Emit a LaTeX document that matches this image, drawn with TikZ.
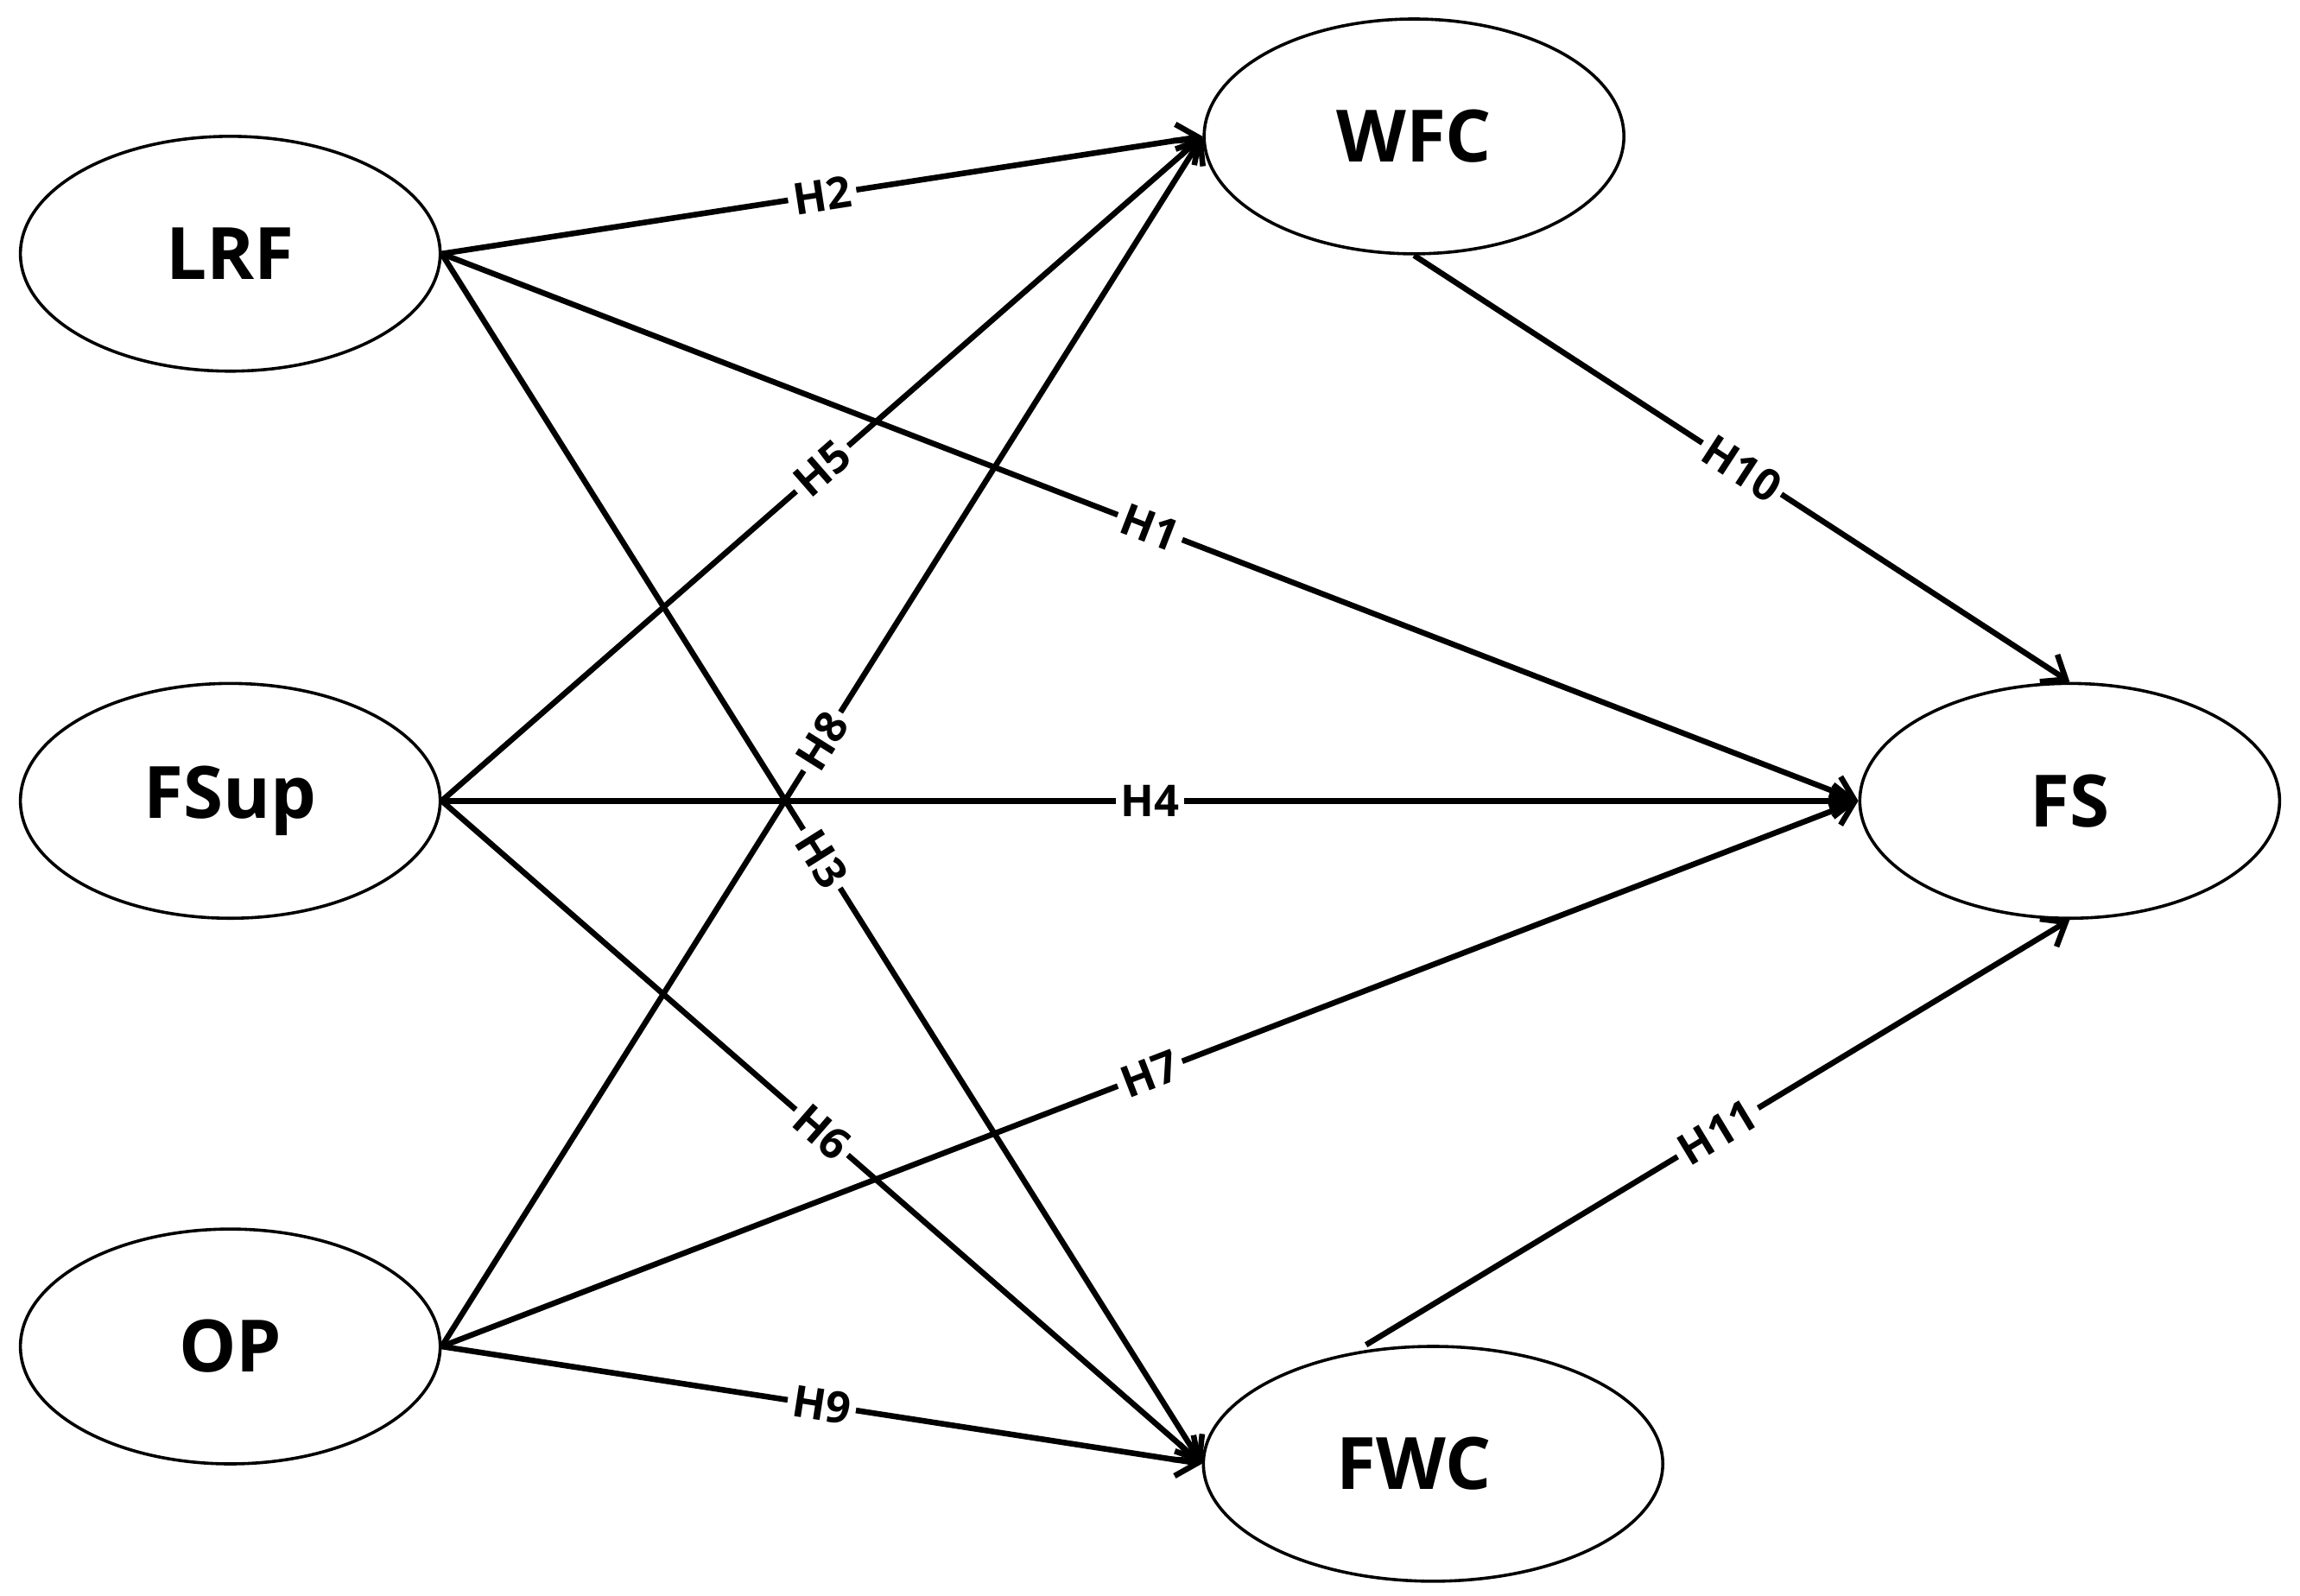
\documentclass[tikz,border=0pt]{standalone}
\usepackage{fontspec}
\setmainfont{Open Sans}
\usetikzlibrary{shapes.geometric,arrows.meta}
\begin{document}
\begin{tikzpicture}[x=0.01cm,y=-0.01cm,
  lat/.style={ellipse,draw,line width=0.6pt,inner sep=0pt,minimum width=2.86cm,minimum height=1.6cm,font=\bfseries\fontsize{14}{16}\selectfont},
  path/.style={line width=1.1pt,-{Straight Barb[length=1.4mm,width=2.2mm]}},
  lab/.style={midway,sloped,fill=white,inner sep=1pt,font=\bfseries\fontsize{8.5}{10}\selectfont}]
\useasboundingbox (0,0) rectangle (1568,1088);
\node[lat] (lrf) at (157,173) {LRF};
\node[lat] (fsup) at (157,546) {FSup};
\node[lat] (op) at (157,918) {OP};
\node[lat] (wfc) at (964,93) {WFC};
\node[lat,minimum width=3.13cm] (fwc) at (977,998) {\hspace*{-0.26cm}FWC};
\node[lat] (fs) at (1411,546) {FS};
\coordinate (fwcTop) at ([xshift=-13]fwc.north);
\draw[path] (lrf.east) -- (wfc.west) node[lab] {H2};
\draw[path] (lrf.east) -- (fs.west) node[lab] {H1};
\draw[path] (lrf.east) -- (fwc.west) node[lab] {H3};
\draw[path] (fsup.east) -- (wfc.west) node[lab] {H5};
\draw[path] (fsup.east) -- (fs.west) node[lab] {H4};
\draw[path] (fsup.east) -- (fwc.west) node[lab] {H6};
\draw[path] (op.east) -- (wfc.west) node[lab] {H8};
\draw[path] (op.east) -- (fs.west) node[lab] {H7};
\draw[path] (op.east) -- (fwc.west) node[lab] {H9};
\draw[path] (wfc.south) -- (fs.north) node[lab] {H10};
\draw[path] (fwcTop) -- (fs.south) node[lab] {H11};
\end{tikzpicture}
\end{document}
